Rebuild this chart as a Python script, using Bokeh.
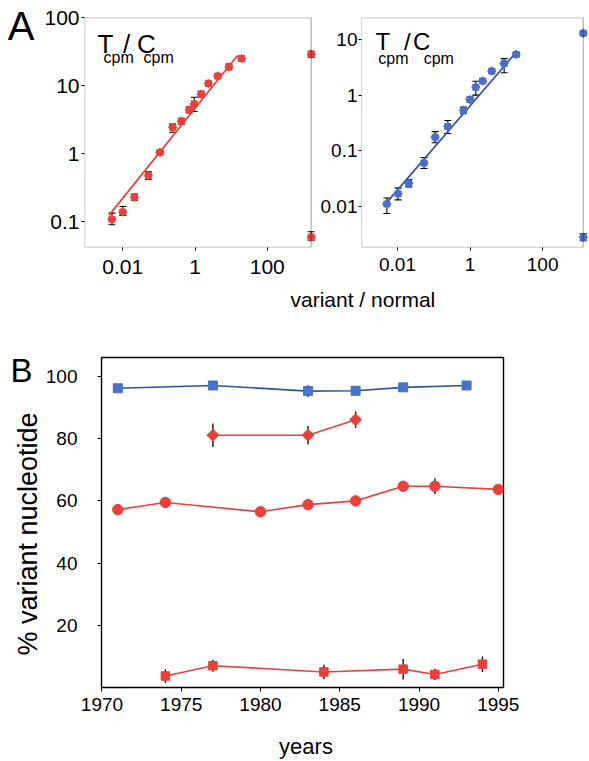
import math
from bokeh.plotting import figure
from bokeh.models import (ColumnDataSource, FixedTicker, Whisker, TeeHead, Label,
                          BoxAnnotation, Range1d, LogAxis)
from bokeh.layouts import column, row
from bokeh.embed import file_html
from bokeh.resources import INLINE

FONT = "Liberation Sans"
RED = "#e8413c"
BLUE_A = "#4a6fc4"
BLUE_LINE = "#2f4fb0"
BLUE_SQ = "#4674c8"
# measured offset between the requested and the drawn baseline of a Label (fraction of font size)
BASELINE_FIX = 0.36

# ---------------- Panel A, left (red) ----------------
a1_ratio = [0.005, 0.01, 0.021, 0.051, 0.107, 0.24, 0.42, 0.69, 0.95, 1.48, 2.35, 4.27, 8.7, 19.5]
a1_tc = [0.11, 0.14, 0.23, 0.48, 1.05, 2.45, 3.0, 4.4, 5.4, 7.5, 10.8, 13.8, 18.8, 25.0]
a1_lo = [0.091, 0.125, 0.206, 0.424, 0.98, 2.07, 2.71, 4.0, 4.17, 6.82, 10.0, 12.8, 17.1, 23.2]
a1_hi = [0.135, 0.169, 0.257, 0.543, 1.12, 2.74, 3.32, 4.84, 6.77, 8.24, 11.6, 14.9, 20.7, 26.9]
a1_pure_tc = [29.0, 0.06]
a1_pure_lo = [26.0, 0.054]
a1_pure_hi = [32.0, 0.072]
a1_fit_x = [0.0042, 14.6, 19.5]
a1_fit_y = [0.126, 27.2, 25.0]
a1_xticks = [0.01, 1, 100]
a1_yticks = [0.1, 1, 10, 100]

# ---------------- Panel A, right (blue) ----------------
a2_ratio = [0.0051, 0.0104, 0.0205, 0.054, 0.109, 0.243, 0.66, 1.0, 1.44, 2.24, 3.96, 8.7, 18.7]
a2_tc = [0.011, 0.0167, 0.026, 0.06, 0.175, 0.273, 0.53, 0.83, 1.39, 1.79, 2.7, 3.68, 5.4]
a2_lo = [0.0074, 0.013, 0.0223, 0.0478, 0.139, 0.204, 0.462, 0.74, 1.0, 1.65, 2.48, 2.53, 4.97]
a2_hi = [0.0141, 0.0212, 0.0303, 0.0754, 0.22, 0.35, 0.608, 0.93, 1.78, 1.95, 2.93, 4.53, 5.87]
a2_pure_tc = [13.0, 0.00277]
a2_pure_lo = [12.0, 0.0024]
a2_pure_hi = [14.1, 0.0032]
a2_fit_x = [0.0045, 16.7]
a2_fit_y = [0.0107, 5.4]
a2_xticks = [0.01, 1, 100]
a2_yticks = [0.01, 0.1, 1, 10]

# ---------------- Panel B ----------------
blue_years = [1971, 1977, 1983, 1986, 1989, 1993]
blue_pct = [96.2, 97.1, 95.3, 95.4, 96.5, 97.1]
blue_err_years = [1983]
blue_err_lo = [93.4]
blue_err_hi = [97.2]

diamond_years = [1977, 1983, 1986]
diamond_pct = [81.1, 81.1, 86.1]
diamond_err_lo = [77.3, 78.1, 83.5]
diamond_err_hi = [84.9, 84.1, 88.7]

circle_years = [1971, 1974, 1980, 1983, 1986, 1989, 1991, 1995]
circle_pct = [57.2, 59.5, 56.5, 58.8, 60.0, 64.7, 64.7, 63.7]
circle_err_years = [1991]
circle_err_lo = [62.2]
circle_err_hi = [67.2]

square_years = [1974, 1977, 1984, 1989, 1991, 1994]
square_pct = [3.7, 7.0, 5.0, 5.9, 4.2, 7.5]
square_err_lo = [1.5, 5.1, 2.7, 2.6, 2.4, 5.0]
square_err_hi = [5.9, 8.9, 7.3, 9.2, 6.0, 10.0]

b_xticks = [1970, 1975, 1980, 1985, 1990, 1995]
b_yticks = [20, 40, 60, 80, 100]


def style_axis(ax, size, standoff, tick_out=3):
    ax.major_label_text_font = FONT
    ax.major_label_text_font_size = f"{size}px"
    ax.major_label_text_color = "black"
    ax.major_label_standoff = standoff
    ax.major_tick_out = tick_out
    ax.major_tick_in = 0
    ax.minor_tick_out = 0
    ax.minor_tick_in = 0
    ax.major_tick_line_color = "black"
    ax.major_tick_line_width = 1


def base_fig(**kw):
    p = figure(output_backend="svg", toolbar_location=None, title=None, **kw)
    p.grid.visible = False
    p.background_fill_color = "white"
    p.border_fill_color = "white"
    return p


def strip(width, height, yr):
    # text-only figure; y range given in page pixels (top at the end of the range)
    p = figure(output_backend="svg", toolbar_location=None, title=None,
               width=width, height=height, x_range=Range1d(0, width), y_range=Range1d(*yr),
               x_axis_location=None, y_axis_location=None,
               min_border_left=0, min_border_right=0, min_border_top=0, min_border_bottom=0)
    p.grid.visible = False
    p.outline_line_color = None
    p.background_fill_color = "white"
    p.border_fill_color = "white"
    return p


def strip_text(p, s, x, y, size, align="left", angle=0.0):
    if angle == 0.0:
        y = y - BASELINE_FIX * size
    else:
        x = x - BASELINE_FIX * size
    p.add_layout(Label(x=x, y=y, text=s, text_font=FONT, text_font_size=f"{size}px",
                       text_color="black", text_align=align, text_baseline="alphabetic",
                       angle=angle))


def log_text(p, xr, yr, fbox, s, px, py, size):
    # place a label at page pixel (px, py) inside a log-log frame fbox=(left, top, right, bottom)
    l, t, r, b = fbox
    py = py - BASELINE_FIX * size
    lx0, lx1 = math.log10(xr[0]), math.log10(xr[1])
    ly0, ly1 = math.log10(yr[0]), math.log10(yr[1])
    x = 10 ** (lx0 + (px - l) / (r - l) * (lx1 - lx0))
    y = 10 ** (ly1 - (py - t) / (b - t) * (ly1 - ly0))
    p.add_layout(Label(x=x, y=y, text=s, text_font=FONT, text_font_size=f"{size}px",
                       text_color="black", text_align="left", text_baseline="alphabetic"))


def panel_a(width, height, xr, yr, pure_x, borders, ratio, tc, lo, hi, ptc, plo, phi,
            fx, fy, xt, yt, color, line_color, tick_size, xstand, ystand):
    p = base_fig(width=width, height=height, x_axis_type="log", y_axis_type="log",
                 x_range=Range1d(*xr), y_range=Range1d(*yr),
                 min_border_left=borders[0], min_border_right=borders[1],
                 min_border_top=borders[2], min_border_bottom=borders[3])
    p.outline_line_color = None
    p.xaxis.ticker = FixedTicker(ticks=xt, minor_ticks=[])
    p.yaxis.ticker = FixedTicker(ticks=yt, minor_ticks=[])
    p.xaxis.major_label_overrides = {t: str(t) for t in xt}
    p.yaxis.major_label_overrides = {t: str(t) for t in yt}
    style_axis(p.xaxis[0], tick_size, xstand)
    style_axis(p.yaxis[0], tick_size, ystand)
    p.xaxis.axis_line_color = None
    p.yaxis.axis_line_color = None
    p.add_layout(BoxAnnotation(left=xr[0], right=pure_x, bottom=yr[0], top=yr[1],
                               fill_alpha=0, fill_color=None, line_color="black",
                               line_width=1.3, level="overlay"))
    p.line(fx, fy, line_color=line_color, line_width=1.7)
    src = ColumnDataSource(dict(x=ratio + [pure_x] * len(ptc), y=tc + ptc,
                                lo=lo + plo, hi=hi + phi))
    p.add_layout(Whisker(source=src, base="x", lower="lo", upper="hi", dimension="height",
                         line_color="black", line_width=1.1,
                         upper_head=TeeHead(size=7, line_color="black", line_width=1.1),
                         lower_head=TeeHead(size=7, line_color="black", line_width=1.1)))
    for ang in (0.0, math.pi / 4):
        p.scatter("x", "y", source=src, marker="square", size=6, angle=ang,
                  fill_color=color, line_color=color)
    return p


# ---------------- row 1: panel A ----------------
ROW1_H = 283
A1_XR, A1_YR = (0.00087, 2467), (0.0422, 100)
A1_FRAME = (84, 17, 317, 247)
pA1 = panel_a(317, ROW1_H, A1_XR, A1_YR, 1650, (84, 0, 17, 36),
              a1_ratio, a1_tc, a1_lo, a1_hi, a1_pure_tc, a1_pure_lo, a1_pure_hi,
              a1_fit_x, a1_fit_y, a1_xticks, a1_yticks, RED, RED, 21, 9, 2)
log_text(pA1, A1_XR, A1_YR, A1_FRAME, "T", 97, 52.5, 26)
log_text(pA1, A1_XR, A1_YR, A1_FRAME, "cpm", 103, 63, 16)
log_text(pA1, A1_XR, A1_YR, A1_FRAME, "/", 122.5, 52.5, 26)
log_text(pA1, A1_XR, A1_YR, A1_FRAME, "C", 136.5, 52.5, 26)
log_text(pA1, A1_XR, A1_YR, A1_FRAME, "cpm", 143, 63, 16)

# panel letter "A" drawn as the single tick label of an extra, line-less axis
A_TICK = 74
letter_axis = LogAxis(ticker=FixedTicker(ticks=[A_TICK], minor_ticks=[]),
                      major_label_overrides={A_TICK: "A"})
style_axis(letter_axis, 40, 7, 0)
letter_axis.axis_line_color = None
letter_axis.major_tick_line_color = None
pA1.add_layout(letter_axis, "left")

A2_XR, A2_YR = (0.00102, 1840), (0.00181, 24.9)
A2_FRAME = (359, 17, 588, 247)
pA2 = panel_a(272, ROW1_H, A2_XR, A2_YR, 1318, (42, 1, 17, 36),
              a2_ratio, a2_tc, a2_lo, a2_hi, a2_pure_tc, a2_pure_lo, a2_pure_hi,
              a2_fit_x, a2_fit_y, a2_xticks, a2_yticks, BLUE_A, BLUE_LINE, 19, 7, 1)
log_text(pA2, A2_XR, A2_YR, A2_FRAME, "T", 373, 50, 24)
log_text(pA2, A2_XR, A2_YR, A2_FRAME, "cpm", 376, 63.5, 16)
log_text(pA2, A2_XR, A2_YR, A2_FRAME, "/", 402, 50, 24)
log_text(pA2, A2_XR, A2_YR, A2_FRAME, "C", 411, 50, 24)
log_text(pA2, A2_XR, A2_YR, A2_FRAME, "cpm", 421.7, 63.5, 16)

# ---------------- row 2: shared x label ----------------
ROW2_Y = ROW1_H
ROW2_H = 30
stripX = strip(589, ROW2_H, (ROW2_Y + ROW2_H, ROW2_Y))
strip_text(stripX, "variant / normal", 290, 306.5, 21)

# ---------------- row 3: panel B ----------------
ROW3_Y = ROW2_Y + ROW2_H
ROW3_H = 412
B_TOP, B_BOTTOM = 44, 38
# the strip's frame is aligned with panel B's frame inside the row
stripB = strip(42, ROW3_H, (ROW3_Y + ROW3_H - B_BOTTOM, ROW3_Y + B_TOP))
strip_text(stripB, "B", 10, 382, 33)
strip_text(stripB, "% variant nucleotide", 37, 533.5, 27, align="center", angle=math.pi / 2)

pB = base_fig(width=547, height=ROW3_H, x_range=Range1d(1969.97, 1995.33),
              y_range=Range1d(0, 106.1),
              min_border_left=56, min_border_right=86, min_border_top=B_TOP,
              min_border_bottom=B_BOTTOM)
pB.outline_line_color = "black"
pB.outline_line_width = 1.4
pB.xaxis.ticker = FixedTicker(ticks=b_xticks, minor_ticks=[])
pB.yaxis.ticker = FixedTicker(ticks=b_yticks, minor_ticks=[])
style_axis(pB.xaxis[0], 19, 6, 4)
style_axis(pB.yaxis[0], 19, 20, 4)
pB.xaxis.axis_line_color = "black"
pB.yaxis.axis_line_color = "black"

pB.segment(blue_err_years, blue_err_lo, blue_err_years, blue_err_hi, line_color="black", line_width=1.3)
pB.segment(diamond_years, diamond_err_lo, diamond_years, diamond_err_hi, line_color="black", line_width=1.3)
pB.segment(circle_err_years, circle_err_lo, circle_err_years, circle_err_hi, line_color="black", line_width=1.3)
pB.segment(square_years, square_err_lo, square_years, square_err_hi, line_color="black", line_width=1.3)

pB.line(blue_years, blue_pct, line_color=BLUE_LINE, line_width=1.6)
pB.scatter(blue_years, blue_pct, marker="square", size=9, fill_color=BLUE_SQ, line_color=BLUE_SQ)

pB.line(diamond_years, diamond_pct, line_color=RED, line_width=1.6)
pB.scatter(diamond_years, diamond_pct, marker="square", size=8.5, angle=math.pi / 4,
           fill_color=RED, line_color=RED)

pB.line(circle_years, circle_pct, line_color=RED, line_width=1.6)
pB.scatter(circle_years, circle_pct, marker="circle", size=10.5, fill_color=RED, line_color=RED)

pB.line(square_years, square_pct, line_color=RED, line_width=1.6)
pB.scatter(square_years, square_pct, marker="square", size=8.5, fill_color=RED, line_color=RED)

# ---------------- row 4: years label ----------------
ROW4_Y = ROW3_Y + ROW3_H
ROW4_H = 35
stripY = strip(589, ROW4_H, (ROW4_Y + ROW4_H, ROW4_Y))
strip_text(stripY, "years", 305.5, 754, 22, align="center")

layout = column(row(pA1, pA2), stripX, row(stripB, pB), stripY)
open("out.html", "w").write(file_html(layout, INLINE))
